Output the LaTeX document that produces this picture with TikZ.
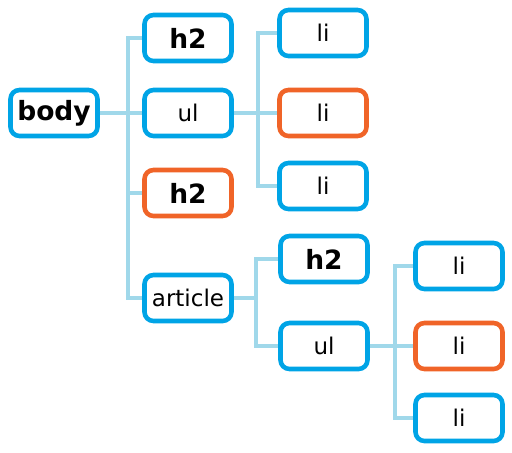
\documentclass[tikz,border=0pt]{standalone}
\usepackage{fontspec}
\setmainfont{DejaVu Sans}
\definecolor{boxblue}{RGB}{0,164,230}
\definecolor{boxorange}{RGB}{240,100,40}
\definecolor{linkblue}{RGB}{160,216,234}
\begin{document}
\begin{tikzpicture}[x=1pt,y=-1pt,
    box/.style={draw=boxblue,line width=4.6pt,rounded corners=9pt,
        minimum width=87pt,minimum height=46pt,inner sep=0pt,font=\fontsize{23}{27}\selectfont},
    hot/.style={box,draw=boxorange},
    heavy/.style={font=\fontsize{26.5}{31}\selectfont\bfseries},
    link/.style={draw=linkblue,line width=4.5pt}]
    \useasboundingbox (0,0) rectangle (512,453);

    \begin{scope}
        \draw node[box,heavy] (body) at (54,113) {body};

        \draw node[box,heavy] (h2a) at (188,38) {h2};
        \draw node[box] (ul1) at (188,113) {ul};
        \draw node[hot,heavy] (h2b) at (188,193) {h2};
        \draw node[box] (article) at (188,298) {article};

        \draw[link] (body.east) -- ++(28,0) |- (h2a.west);
        \draw[link] (body.east) -- (ul1.west);
        \draw[link] (body.east) -- ++(28,0) |- (h2b.west);
        \draw[link] (body.east) -- ++(28,0) |- (article.west);
    \end{scope}

    \begin{scope}
        \draw node[box] (li1) at (323,33) {li};
        \draw node[hot] (li2) at (323,113) {li};
        \draw node[box] (li3) at (323,186) {li};

        \draw[link] (ul1.east) -- ++(24,0) |- (li1.west);
        \draw[link] (ul1.east) -- (li2.west);
        \draw[link] (ul1.east) -- ++(24,0) |- (li3.west);
    \end{scope}

    \begin{scope}
        \draw node[box,heavy] (h2c) at (324,259) {h2};
        \draw node[box] (ul2) at (324,346) {ul};

        \draw[link] (article.east) -- ++(22,0) |- (h2c.west);
        \draw[link] (article.east) -- ++(22,0) |- (ul2.west);

        \draw node[box] (li4) at (459,266) {li};
        \draw node[hot] (li5) at (459,346) {li};
        \draw node[box] (li6) at (459,418) {li};

        \draw[link] (ul2.east) -- ++(25,0) |- (li4.west);
        \draw[link] (ul2.east) -- (li5.west);
        \draw[link] (ul2.east) -- ++(25,0) |- (li6.west);
    \end{scope}
\end{tikzpicture}
\end{document}
